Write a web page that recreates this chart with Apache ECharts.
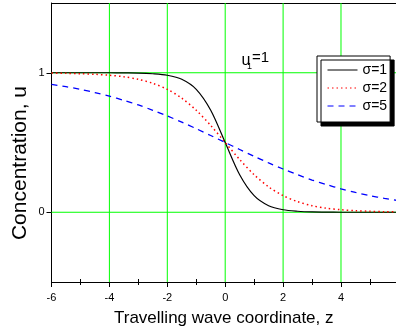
<!DOCTYPE html>
<html>
<head>
<meta charset="utf-8">
<script src="https://cdn.jsdelivr.net/npm/echarts@6/dist/echarts.min.js"></script>
<style>
  html, body { margin: 0; padding: 0; background: #fff; }
  #chart { width: 396px; height: 335px; }
</style>
</head>
<body>
<div id="chart"></div>
<script>
// travelling wave coordinate z
const zValues = [-6, -5.5, -5, -4.5, -4, -3.5, -3, -2.5, -2, -1.5, -1, -0.5, 0,
  0.5, 1, 1.5, 2, 2.5, 3, 3.5, 4, 4.5, 5, 5.5, 5.9];
// concentration u
const uSigma1 = [1, 1, 1, 1, 1, 0.999, 0.998, 0.993, 0.982, 0.953, 0.881, 0.731, 0.5,
  0.269, 0.119, 0.047, 0.018, 0.007, 0.002, 0.001, 0, 0, 0, 0, 0];
const uSigma2 = [0.998, 0.996, 0.993, 0.989, 0.982, 0.971, 0.953, 0.924, 0.881, 0.818, 0.731, 0.622, 0.5,
  0.378, 0.269, 0.182, 0.119, 0.076, 0.047, 0.029, 0.018, 0.011, 0.007, 0.004, 0.003];
const uSigma5 = [0.917, 0.9, 0.881, 0.858, 0.832, 0.802, 0.769, 0.731, 0.69, 0.646, 0.599, 0.55, 0.5,
  0.45, 0.401, 0.354, 0.31, 0.269, 0.231, 0.198, 0.168, 0.142, 0.119, 0.1, 0.086];
const seriesNames = ['σ=1', 'σ=2', 'σ=5'];
const xTickLabels = [-6, -4, -2, 0, 2, 4];
const xMinorTicks = [-5, -3, -1, 1, 3, 5];
const yTickLabels = [0, 1];
const gridX = [-4, -2, 0, 2, 4];
const gridY = [0, 1];
const xMin = -6, xMax = 5.9, yMin = -0.5, yMax = 1.5;

const font = "'Liberation Sans', Arial, sans-serif";
const green = '#00ff00';
const pairs = arr => zValues.map((z, i) => [z, arr[i]]);

// extra bottom axes only for the small crossing ticks
const minorAxis = (inside) => ({
  type: 'value', position: 'bottom', min: xMin, max: xMax,
  axisLine: { show: false, onZero: false },
  axisTick: { show: true, inside: inside, length: 3, customValues: xMinorTicks, lineStyle: { color: '#000' } },
  axisLabel: { show: false }, splitLine: { show: false }
});

// green grid lines as plain line series
const gridLine = data => ({
  type: 'line', data: data, silent: true, symbol: 'none', showSymbol: false, z: 1,
  lineStyle: { color: green, width: 1, type: 'solid' }, emphasis: { disabled: true }
});
const gridSeries = gridX.map(v => gridLine([[v, yMin], [v, yMax]]))
  .concat(gridY.map(v => gridLine([[xMin, v], [xMax, v]])));

const chart = echarts.init(document.getElementById('chart'));
chart.setOption({
  animation: false,
  textStyle: { fontFamily: font, color: '#000' },
  grid: { left: 51.5, right: 0, top: 3, bottom: 53, containLabel: false, outerBoundsMode: 'none' },
  legend: {
    orient: 'vertical',
    left: 317, top: 56,
    padding: [7, 3, 9, 10],
    itemWidth: 30, itemHeight: 14, itemGap: 4,
    backgroundColor: '#fff',
    borderColor: '#000', borderWidth: 1,
    shadowColor: '#000', shadowBlur: 0, shadowOffsetX: 4, shadowOffsetY: 4,
    itemStyle: { opacity: 0 },
    lineStyle: { width: 1 },
    textStyle: { fontFamily: font, fontSize: 14, color: '#000' },
    data: seriesNames
  },
  xAxis: [{
    type: 'value', min: xMin, max: xMax, interval: 2,
    name: 'Travelling wave coordinate, z',
    nameLocation: 'middle', nameGap: 28,
    nameTextStyle: { fontFamily: font, fontSize: 17, color: '#000' },
    axisLine: { onZero: false, lineStyle: { color: '#000', width: 1 } },
    axisTick: { length: 5, customValues: xTickLabels, lineStyle: { color: '#000' } },
    axisLabel: { customValues: xTickLabels, fontFamily: font, fontSize: 11, color: '#000', margin: 10 },
    splitLine: { show: false }
  }, {
    type: 'value', position: 'top', min: xMin, max: xMax,
    axisLine: { onZero: false, lineStyle: { color: '#000', width: 1 } },
    axisTick: { show: false }, axisLabel: { show: false }, splitLine: { show: false }
  }, minorAxis(true), minorAxis(false)],
  yAxis: {
    type: 'value', min: yMin, max: yMax,
    axisLine: { show: true, onZero: false, lineStyle: { color: '#000', width: 1 } },
    axisTick: { show: true, length: 5, customValues: yTickLabels, lineStyle: { color: '#000' } },
    axisLabel: { customValues: yTickLabels, fontFamily: font, fontSize: 11, color: '#000', margin: 7 },
    splitLine: { show: false }
  },
  graphic: [
    { type: 'text', x: 20, y: 163, rotation: Math.PI / 2,
      style: { text: 'Concentration, u', fontFamily: font, fontSize: 21, fill: '#000',
        align: 'center', verticalAlign: 'middle' } },
    { type: 'text', x: 241.5, y: 68.5, style: { text: 'u', fontFamily: font, fontSize: 16, fill: '#000', verticalAlign: 'bottom' } },
    { type: 'text', x: 247, y: 71, style: { text: '1', fontFamily: font, fontSize: 9, fill: '#000', verticalAlign: 'bottom' } },
    { type: 'text', x: 252, y: 65.5, style: { text: '=1', fontFamily: font, fontSize: 15, fill: '#000', verticalAlign: 'bottom' } }
  ],
  series: gridSeries.concat([
    { name: seriesNames[0], type: 'line', data: pairs(uSigma1), smooth: 0.3, showSymbol: false, symbol: 'none', z: 3,
      lineStyle: { color: '#000', width: 1.2, type: 'solid' }, itemStyle: { color: '#000' } },
    { name: seriesNames[1], type: 'line', data: pairs(uSigma2), smooth: 0.3, showSymbol: false, symbol: 'none', z: 3,
      lineStyle: { color: '#ff0000', width: 1.5, type: [1.5, 3] }, itemStyle: { color: '#ff0000' } },
    { name: seriesNames[2], type: 'line', data: pairs(uSigma5), smooth: 0.3, showSymbol: false, symbol: 'none', z: 3,
      lineStyle: { color: '#0000ff', width: 1.3, type: [6, 5] }, itemStyle: { color: '#0000ff' } }
  ])
});
</script>
</body>
</html>
